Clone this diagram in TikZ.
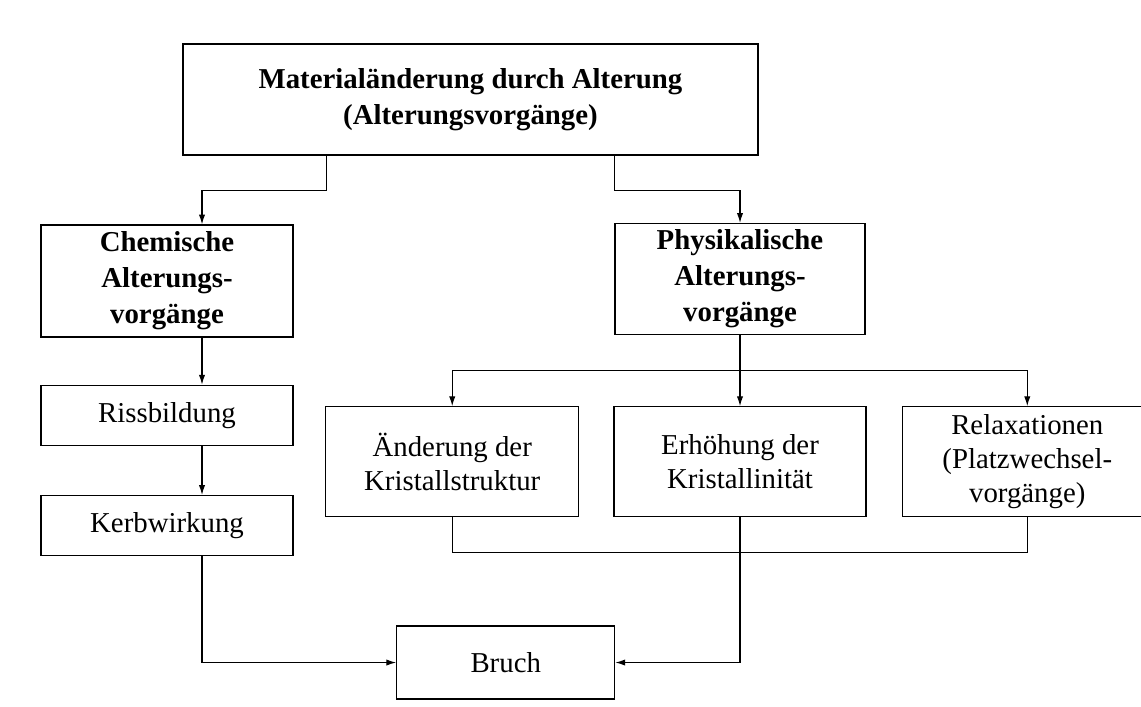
\documentclass[tikz,border=0pt]{standalone}
\usepackage{fontspec}
\setmainfont{Liberation Serif}
\usetikzlibrary{
  arrows.meta,
  positioning
}
\tikzset{
  headbox/.style={draw, line width=0.9pt, align=center, inner sep=2pt,
    font=\fontsize{20.5}{25.5}\selectfont\bfseries},
  stepbox/.style={draw, line width=0.9pt, align=center, inner sep=2pt,
    minimum width=6.3cm, font=\fontsize{20.5}{24}\selectfont},
  arr/.style={-{Latex[length=7pt,width=4.5pt]}, line width=0.8pt},
  link/.style={line width=0.8pt},
}

\begin{document}
\begin{tikzpicture}
  \useasboundingbox (0,0) rectangle (28.525,-17.675);

  % Top
  \node[headbox, minimum width=14.375cm, minimum height=2.775cm] (mat)
    at (11.7625,-2.4875) {Materialänderung durch Alterung\\(Alterungsvorgänge)};

  % Chemical branch (left)
  \node[headbox, minimum width=6.3cm, minimum height=2.8cm] (chem)
    at (4.175,-7.025) {Chemische\\Alterungs-\\vorgänge};
  \node[stepbox, minimum height=1.5cm, below=1.175cm of chem] (riss)
    {Rissbildung};
  \node[stepbox, minimum height=1.5cm, below=1.225cm of riss] (kerb)
    {Kerbwirkung};

  % Physical branch (right)
  \node[headbox, minimum width=6.25cm, minimum height=2.775cm] (phys)
    at (18.5,-6.975) {Physikalische\\Alterungs-\\vorgänge};
  \node[stepbox, minimum height=2.75cm, below=1.775cm of phys] (erh)
    {Erhöhung der\\Kristallinität};
  \node[stepbox, minimum width=6.325cm, minimum height=2.75cm,
        left=0.85cm of erh] (aend)
    {Änderung der\\Kristallstruktur};
  \node[stepbox, minimum width=6.25cm, minimum height=2.75cm,
        right=0.875cm of erh] (relax)
    {Relaxationen\\(Platzwechsel-\\vorgänge)};

  % Result
  \node[stepbox, minimum width=5.45cm, minimum height=1.825cm,
        below=2.7cm of erh.south west, anchor=north east, xshift=0.05cm] (bruch)
    {Bruch};

  % Arrows
  \draw[arr] ([xshift=-3.59cm]mat.south) -- ++(0,-0.875)
    -| ([xshift=0.875cm]chem.north);
  \draw[arr] ([xshift=3.61cm]mat.south) -- ++(0,-0.875) -| (phys.north);

  \draw[arr] ([xshift=0.875cm]chem.south) -- ([xshift=0.875cm]riss.north);
  \draw[arr] ([xshift=0.875cm]riss.south) -- ([xshift=0.875cm]kerb.north);
  \draw[arr] ([xshift=0.875cm]kerb.south) |- (bruch.west);

  \draw[link] (phys.south) -- ++(0,-0.875) coordinate (split);
  \draw[arr] (split) -- (erh.north);
  \draw[arr] (split) -| (aend.north);
  \draw[arr] (split) -| (relax.north);

  \draw[link] (aend.south) -- ++(0,-0.875) -| (relax.south);
  \draw[arr] (erh.south) |- (bruch.east);
\end{tikzpicture}
\end{document}
